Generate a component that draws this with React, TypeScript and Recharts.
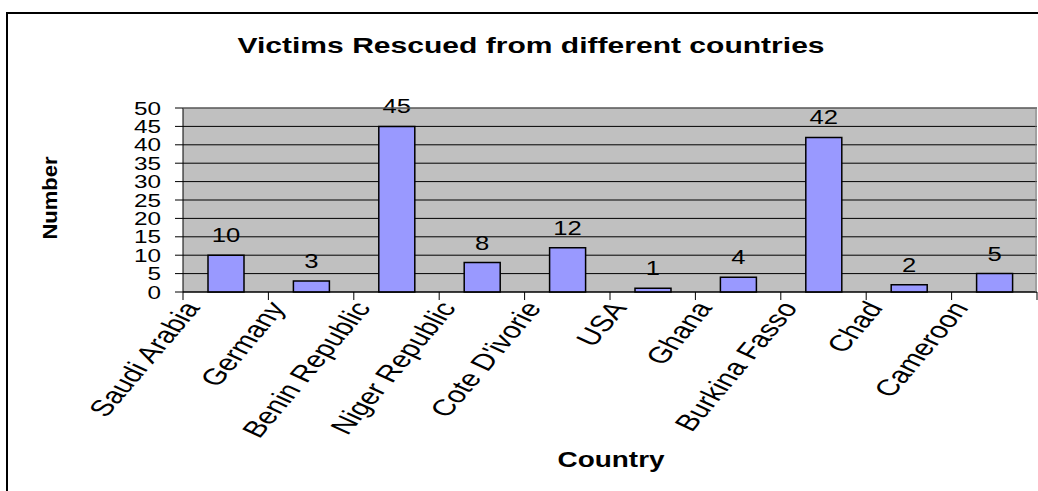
import React from "react";
import { BarChart, Bar, XAxis, YAxis, CartesianGrid, LabelList } from "recharts";

const categories = [
  "Saudi Arabia",
  "Germany",
  "Benin Republic",
  "Niger Republic",
  "Cote D'ivorie",
  "USA",
  "Ghana",
  "Burkina Fasso",
  "Chad",
  "Cameroon",
];
const victims = [10, 3, 45, 8, 12, 1, 4, 42, 2, 5];
const yTicks = [0, 5, 10, 15, 20, 25, 30, 35, 40, 45, 50];

const data = categories.map((c, i) => ({ country: c, victims: victims[i] }));

const W = 1038;
const H = 491;
const PLOT_L = 183;
const PLOT_R = 1037;
const PLOT_T = 108;
const PLOT_B = 292;
const BAND = (PLOT_R - PLOT_L) / categories.length;
const FONT = "'Liberation Sans', Arial, sans-serif";

const XTick = (props: any) => {
  const { x, y, payload, index } = props;
  const left = x - BAND / 2;
  const right = x + BAND / 2;
  return (
    <g>
      <line x1={left} y1={y} x2={left} y2={y + 8} stroke="#000" strokeWidth={1} />
      {index === categories.length - 1 && (
        <line x1={right} y1={y} x2={right} y2={y + 8} stroke="#000" strokeWidth={1} />
      )}
      <text
        transform={`translate(${x - 25}, ${y + 16}) scale(1.37, 1) rotate(-58)`}
        textAnchor="end"
        fontSize={23}
        fontFamily={FONT}
        fill="#000"
      >
        {payload.value}
      </text>
    </g>
  );
};

const YTick = (props: any) => {
  const { x, y, payload } = props;
  return (
    <g>
      <line x1={x - 8} y1={y} x2={x} y2={y} stroke="#000" strokeWidth={1} />
      <text
        transform={`translate(${x - 22}, ${y + 6.5}) scale(1.35, 1)`}
        textAnchor="end"
        fontSize={18}
        fontFamily={FONT}
        fill="#000"
      >
        {payload.value}
      </text>
    </g>
  );
};

const BarValue = (props: any) => {
  const { x, y, width, value } = props;
  return (
    <text
      transform={`translate(${x + width / 2}, ${y - 13}) scale(1.25, 1)`}
      textAnchor="middle"
      fontSize={20.5}
      fontFamily={FONT}
      fill="#000"
    >
      {value}
    </text>
  );
};

export default function App() {
  return (
    <div style={{ position: "absolute", left: 0, top: 0, width: W, height: H, background: "#fff", overflow: "hidden" }}>
      <BarChart
        width={W}
        height={H}
        data={data}
        margin={{ top: PLOT_T, right: W - PLOT_R, bottom: 49, left: 123 }}
        barCategoryGap={0}
      >
        <CartesianGrid
          vertical={false}
          stroke="#000"
          strokeWidth={1}
          fill="#C0C0C0"
          fillOpacity={1}
        />
        <XAxis
          dataKey="country"
          interval={0}
          height={150}
          tickSize={0}
          tickMargin={0}
          tickLine={false}
          axisLine={{ stroke: "#000", strokeWidth: 1 }}
          tick={<XTick />}
        />
        <YAxis
          width={60}
          domain={[0, 50]}
          ticks={yTicks}
          interval={0}
          tickSize={0}
          tickMargin={0}
          tickLine={false}
          axisLine={{ stroke: "#000", strokeWidth: 1 }}
          tick={<YTick />}
        />
        <Bar dataKey="victims" fill="#9999FF" stroke="#000" strokeWidth={1.5} barSize={36} isAnimationActive={false}>
          <LabelList dataKey="victims" content={<BarValue />} />
        </Bar>
      </BarChart>
      <svg
        width={W}
        height={H}
        style={{ position: "absolute", left: 0, top: 0, pointerEvents: "none" }}
      >
        <rect x={7} y={13} width={1100} height={600} fill="none" stroke="#000" strokeWidth={2} />
        <line x1={PLOT_L} y1={PLOT_T} x2={PLOT_R} y2={PLOT_T} stroke="#808080" strokeWidth={1} />
        <line x1={PLOT_R - 1} y1={PLOT_T} x2={PLOT_R - 1} y2={PLOT_B} stroke="#808080" strokeWidth={1} />
        <text
          transform="translate(531, 53) scale(1.33, 1)"
          textAnchor="middle"
          fontSize={22.6}
          fontWeight="bold"
          fontFamily={FONT}
          fill="#000"
        >
          Victims Rescued from different countries
        </text>
        <text
          transform="translate(611, 467) scale(1.3, 1)"
          textAnchor="middle"
          fontSize={21.5}
          fontWeight="bold"
          fontFamily={FONT}
          fill="#000"
        >
          Country
        </text>
        <text
          transform="translate(57, 198) rotate(-90) scale(1, 0.93)"
          textAnchor="middle"
          fontSize={22}
          fontWeight="bold"
          fontFamily={FONT}
          fill="#000"
        >
          Number
        </text>
      </svg>
    </div>
  );
}
